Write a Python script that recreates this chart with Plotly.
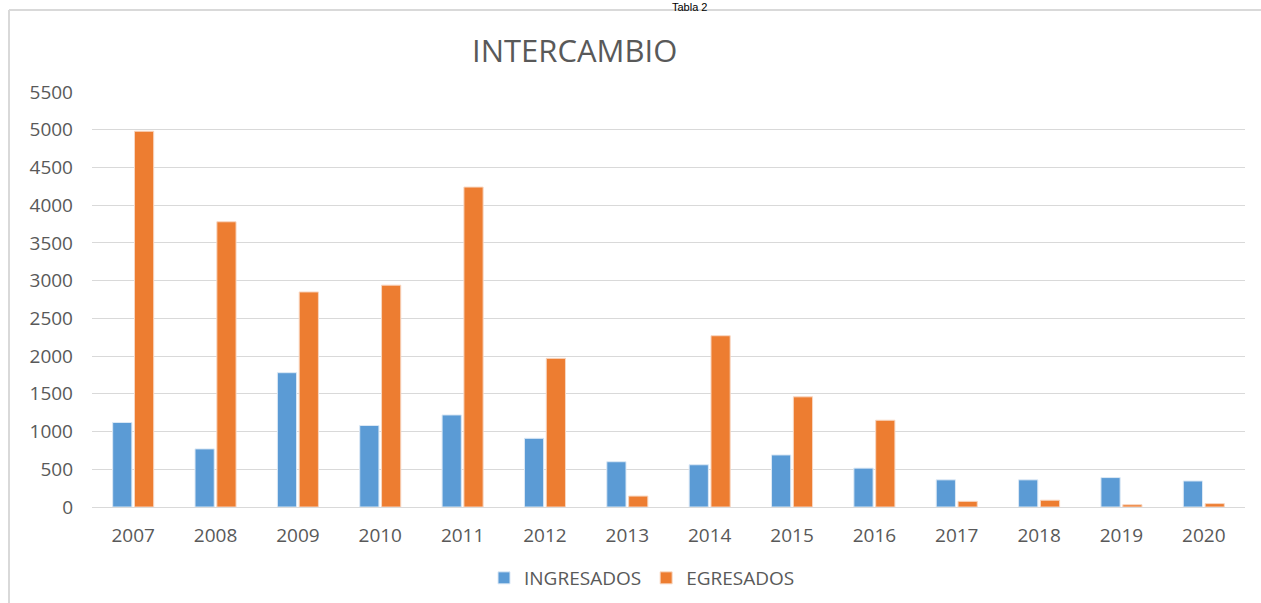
import plotly.graph_objects as go

years = ["2007", "2008", "2009", "2010", "2011", "2012", "2013",
         "2014", "2015", "2016", "2017", "2018", "2019", "2020"]
ingresados = [1120, 770, 1780, 1080, 1220, 910, 600, 560, 690, 515, 360, 360, 390, 345]
egresados = [4980, 3780, 2850, 2940, 4240, 1970, 145, 2270, 1460, 1150, 75, 90, 30, 45]
y_ticks = [0, 500, 1000, 1500, 2000, 2500, 3000, 3500, 4000, 4500, 5000, 5500]

TXT = "#595959"
GRID = "#d9d9d9"
FONT = "Open Sans"

fig = go.Figure()
fig.add_trace(go.Bar(x=years, y=ingresados, name="INGRESADOS",
                     marker=dict(color="#5B9BD5", line=dict(color="#dbe8f5", width=1))))
fig.add_trace(go.Bar(x=years, y=egresados, name="EGRESADOS",
                     marker=dict(color="#ED7D31", line=dict(color="#f8d7c2", width=1))))

W, H = 1261, 603
L, R, T, B = 92, 16, 92, 96
pw, ph = W - L - R, H - T - B

def px(x):
    return (x - L) / pw

def py(y):
    return (H - B - y) / ph

fig.update_layout(
    width=W, height=H,
    margin=dict(l=L, r=R, t=T, b=B, autoexpand=False),
    paper_bgcolor="white", plot_bgcolor="white",
    barmode="group", bargap=0.47, bargroupgap=0.12,
    font=dict(family=FONT, color=TXT, size=19),
    showlegend=True,
    legend=dict(orientation="h", x=px(642), y=py(578), xanchor="center", yanchor="middle",
                font=dict(size=19, color=TXT, family=FONT), itemwidth=30,
                traceorder="normal"),
    xaxis=dict(type="category", showgrid=False, showline=True, linecolor=GRID, linewidth=1,
               ticks="", tickfont=dict(size=19, color=TXT, family=FONT), ticklabelstandoff=11),
    yaxis=dict(range=[0, 5500], tickvals=y_ticks, showgrid=True, gridcolor=GRID, gridwidth=1,
               zeroline=False, showline=False, ticks="",
               tickfont=dict(size=19, color=TXT, family=FONT), ticklabelstandoff=18),
    annotations=[
        dict(text="INTERCAMBIO", xref="paper", yref="paper", x=px(574), y=py(50),
             xanchor="center", yanchor="middle", showarrow=False,
             font=dict(size=31, color=TXT, family=FONT)),
        dict(text="Tabla 2", xref="paper", yref="paper", x=px(690), y=py(-1),
             xanchor="center", yanchor="top", showarrow=False,
             font=dict(size=11, color="#000000", family="Liberation Sans")),
    ],
    shapes=[
        dict(type="line", xref="paper", yref="paper", x0=px(9), x1=px(1270), y0=py(10), y1=py(10),
             line=dict(color=GRID, width=2)),
        dict(type="line", xref="paper", yref="paper", x0=px(9), x1=px(9), y0=py(10), y1=py(620),
             line=dict(color=GRID, width=2)),
    ],
)

fig.write_html("out.html", config={"displayModeBar": False},
               post_script="document.body.style.margin='0';document.body.style.overflow='hidden';")
